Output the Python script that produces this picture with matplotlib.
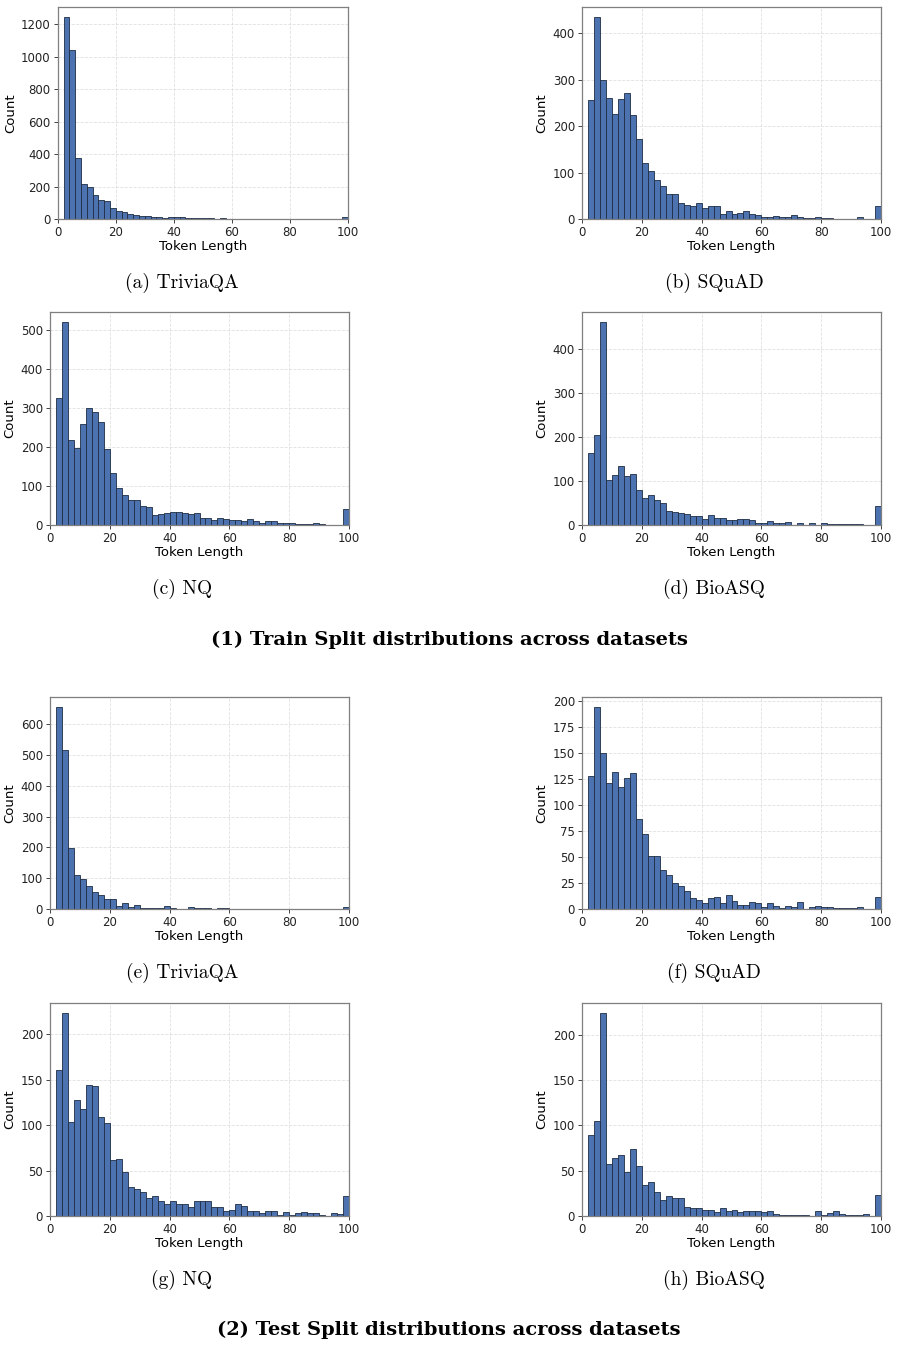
import numpy as np
import matplotlib
matplotlib.use("Agg")
import matplotlib.pyplot as plt
from matplotlib.ticker import MultipleLocator

# bin edges: width-2 bins from 2 to 100 (49 bins)
bin_edges = np.arange(2, 101, 2)

# counts per bin
train_triviaqa = [1243, 1042, 375, 215, 195, 145, 119, 113, 68, 49, 43, 29, 23, 18, 18, 12, 12,
                  6, 14, 14, 10, 8, 8, 6, 4, 4, 3, 4, 3, 2, 3, 2, 2, 2, 2, 1, 1, 2, 1, 1, 2, 1,
                  1, 1, 1, 1, 1, 0, 10]
train_squad = [257, 435, 300, 260, 226, 258, 271, 225, 172, 121, 103, 84, 71, 54, 53, 34, 30,
               28, 34, 24, 27, 29, 11, 17, 10, 14, 17, 10, 9, 4, 4, 6, 4, 5, 9, 4, 3, 2, 4, 2,
               3, 0, 1, 0, 0, 4, 0, 1, 27]
train_nq = [325, 521, 219, 199, 259, 301, 289, 264, 194, 133, 96, 77, 65, 64, 49, 46, 26, 29,
            32, 34, 34, 31, 29, 31, 19, 19, 14, 18, 15, 12, 12, 10, 15, 9, 6, 10, 9, 5, 5, 5,
            3, 3, 3, 5, 3, 1, 0, 1, 40]
train_bioasq = [163, 203, 460, 102, 113, 134, 110, 116, 80, 61, 68, 57, 50, 32, 30, 27, 25, 20,
                20, 14, 23, 16, 15, 11, 11, 14, 13, 11, 5, 5, 10, 4, 5, 7, 0, 5, 0, 5, 0, 5, 2,
                2, 3, 2, 2, 2, 0, 0, 44]
test_triviaqa = [655, 515, 199, 110, 96, 75, 55, 45, 31, 31, 11, 19, 8, 12, 4, 4, 2, 2, 9, 4,
                 1, 1, 5, 3, 3, 3, 1, 3, 3, 1, 1, 1, 1, 1, 1, 1, 1, 1, 1, 1, 1, 1, 1, 1, 1, 1,
                 1, 1, 6]
test_squad = [128, 194, 150, 121, 132, 117, 126, 131, 86, 72, 51, 51, 37, 33, 25, 22, 17, 11, 9,
              6, 11, 12, 6, 13, 8, 4, 4, 7, 6, 2, 6, 3, 1, 3, 2, 7, 0, 2, 3, 2, 2, 1, 1, 1, 1,
              2, 0, 0, 12]
test_nq = [160, 223, 103, 127, 118, 144, 143, 109, 102, 62, 63, 48, 32, 30, 26, 20, 22, 17, 13,
           16, 13, 13, 10, 16, 16, 16, 10, 10, 6, 7, 13, 11, 6, 6, 3, 5, 6, 1, 4, 1, 3, 4, 3, 3,
           1, 0, 3, 2, 22]
test_bioasq = [89, 105, 224, 57, 64, 67, 49, 74, 55, 34, 38, 26, 18, 22, 20, 20, 10, 9, 9, 7, 7,
               4, 9, 6, 7, 4, 5, 5, 6, 4, 5, 2, 1, 1, 1, 1, 1, 0, 5, 1, 3, 5, 2, 1, 1, 1, 2, 0, 23]

captions = ["(a) TriviaQA", "(b) SQuAD", "(c) NQ", "(d) BioASQ",
            "(e) TriviaQA", "(f) SQuAD", "(g) NQ", "(h) BioASQ"]
group_titles = ["(1) Train Split distributions across datasets",
                "(2) Test Split distributions across datasets"]
y_steps = [200, 100, 100, 100, 100, 25, 50, 50]

W, H = 898, 1349
fig = plt.figure(figsize=(W / 100, H / 100), dpi=100)

# axes boxes in pixels: left, top, right, bottom
boxes = [(57.7, 7, 348, 219), (582, 7, 881, 219),
         (50, 312, 349, 525), (582, 312, 881, 525),
         (50, 697, 349, 909), (582, 697, 881, 909),
         (50, 1003, 349, 1216), (582, 1003, 881, 1216)]
caption_x = [182, 714] * 4
series = [train_triviaqa, train_squad, train_nq, train_bioasq,
          test_triviaqa, test_squad, test_nq, test_bioasq]

for (l, t, r, b), counts, cap, cx, step in zip(boxes, series, captions, caption_x, y_steps):
    ax = fig.add_axes([l / W, 1 - b / H, (r - l) / W, (b - t) / H])
    ax.bar(bin_edges[:-1], counts, width=2, align="edge", color="#4C72B0",
           edgecolor="#1f2d45", linewidth=0.6)
    ax.set_xlim(0, 100)
    ax.set_xticks([0, 20, 40, 60, 80, 100])
    ax.yaxis.set_major_locator(MultipleLocator(step))
    ax.set_axisbelow(True)
    ax.grid(True, color="#d9d9d9", linestyle="--", linewidth=0.6, alpha=0.8)
    ax.tick_params(labelsize=8.5, length=3, width=0.6, colors="#222222", pad=2)
    ax.set_xlabel("Token Length", fontsize=9.5, labelpad=1)
    ax.set_ylabel("Count", fontsize=9.5, labelpad=3)
    for s in ax.spines.values():
        s.set_color("#7f7f7f")
        s.set_linewidth(0.9)
    fig.text(cx / W, 1 - (b + 64) / H, cap, ha="center", va="center",
             fontsize=14, family="cmr10")

fig.text(0.5, 1 - 640 / H, group_titles[0], ha="center", va="center",
         fontsize=14, family="DejaVu Serif", weight="bold")
fig.text(0.5, 1 - 1330 / H, group_titles[1], ha="center", va="center",
         fontsize=14, family="DejaVu Serif", weight="bold")

fig.savefig("out.png", dpi=100)
